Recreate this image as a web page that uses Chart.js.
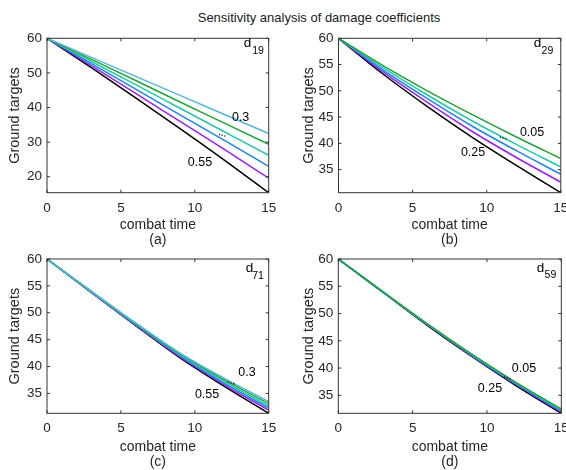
<!DOCTYPE html>
<html>
<head>
<meta charset="utf-8">
<script src="https://cdn.jsdelivr.net/npm/chart.js@4.4.0/dist/chart.umd.min.js"></script>
<style>
  html, body { margin: 0; padding: 0; background: #fff; }
  #wrap { position: relative; width: 566px; height: 470px; overflow: hidden; font-family: "Liberation Sans", Arial, sans-serif; }
  .panel { position: absolute; }
  #title { position: absolute; left: 0; width: 638px; top: 10px; line-height: 15px; text-align: center; font-size: 13px; color: #1a1a1a; }
</style>
</head>
<body>
<div id="wrap">
  <div id="title">Sensitivity analysis of damage coefficients</div>
  <canvas class="panel" id="pa" width="283" height="222" style="left:0;top:28px"></canvas>
  <canvas class="panel" id="pb" width="283" height="222" style="left:283px;top:28px"></canvas>
  <canvas class="panel" id="pc" width="283" height="220" style="left:0;top:250px"></canvas>
  <canvas class="panel" id="pd" width="283" height="220" style="left:283px;top:250px"></canvas>
</div>
<script>
(function(){
    // combat time samples and tick labels
    const times = [0, 3, 6, 9, 12, 15];
    const xTicks = [0, 5, 10, 15];
    const yTicksA = [20, 30, 40, 50, 60];
    const yTicksB = [35, 40, 45, 50, 55, 60];

    // (a) d19 = 0.3 ... 0.55
    const a030 = [60, 54.5, 49.0, 43.5, 38.0, 32.5];
    const a035 = [60, 53.9, 47.8, 41.6, 35.5, 29.4];
    const a040 = [60, 53.3, 46.6, 39.8, 33.0, 26.2];
    const a045 = [60, 52.7, 45.3, 37.9, 30.5, 23.0];
    const a050 = [60, 52.1, 44.1, 36.0, 27.9, 19.6];
    const a055 = [60, 51.5, 42.8, 33.9, 24.8, 15.4];

    // (b) d29 = 0.05 ... 0.25
    const b005 = [60, 54.8, 50.0, 45.5, 41.2, 37.1];
    const b010 = [60, 54.4, 49.2, 44.3, 39.8, 35.5];
    const b015 = [60, 54.0, 48.5, 43.3, 38.6, 34.1];
    const b020 = [60, 53.6, 47.8, 42.3, 37.3, 32.6];
    const b025 = [60, 53.2, 47.0, 41.2, 35.8, 30.6];

    // (c) d71 = 0.3 ... 0.55
    const c030 = [60, 54.0, 48.1, 42.5, 37.8, 33.5];
    const c035 = [60, 54.0, 48.0, 42.4, 37.5, 33.1];
    const c040 = [60, 53.9, 47.9, 42.2, 37.2, 32.7];
    const c045 = [60, 53.9, 47.8, 42.0, 36.9, 32.3];
    const c050 = [60, 53.8, 47.7, 41.8, 36.6, 31.9];
    const c055 = [60, 53.8, 47.6, 41.6, 36.3, 31.3];

    // (d) d59 = 0.05 ... 0.25
    const d005 = [60, 54.0, 48.1, 42.5, 37.3, 32.5];
    const d010 = [60, 54.0, 48.0, 42.4, 37.2, 32.3];
    const d015 = [60, 53.9, 48.0, 42.3, 37.0, 32.1];
    const d020 = [60, 53.9, 47.9, 42.2, 36.9, 31.9];
    const d025 = [60, 53.9, 47.8, 42.1, 36.7, 31.7];

    const sixColors = ['#55b5dd', '#21a336', '#22c9a8', '#1a84f0', '#9b1ff0', '#000000'];
    const fiveColors = ['#21a336', '#22c9a8', '#1a84f0', '#9b1ff0', '#000000'];

    const fam = '"Liberation Sans", Arial, sans-serif';
    const axisColor = '#262626';

    // box, inward ticks and the little in-plot labels
    const matlabBox = {
        id: 'matlabBox',
        afterDatasetsDraw(chart, args, opts) {
            const {ctx, chartArea: a, scales: {x, y}} = chart;
            ctx.save();
            ctx.strokeStyle = '#333';
            ctx.lineWidth = 1;
            ctx.strokeRect(a.left, a.top, a.width, a.height);
            ctx.beginPath();
            x.ticks.forEach(t => {
                const px = x.getPixelForValue(t.value);
                ctx.moveTo(px, a.bottom); ctx.lineTo(px, a.bottom - 3);
                ctx.moveTo(px, a.top); ctx.lineTo(px, a.top + 3);
            });
            y.ticks.forEach(t => {
                const py = y.getPixelForValue(t.value);
                ctx.moveTo(a.left, py); ctx.lineTo(a.left + 3, py);
                ctx.moveTo(a.right, py); ctx.lineTo(a.right - 3, py);
            });
            ctx.stroke();

            ctx.fillStyle = '#000';
            ctx.textAlign = 'center';
            ctx.textBaseline = 'middle';
            ctx.font = '12.5px ' + fam;
            opts.labels.forEach(l => {
                ctx.fillText(l.text, x.getPixelForValue(l.x), y.getPixelForValue(l.y));
            });
            // name of the coefficient with subscript
            ctx.font = '13.5px ' + fam;
            ctx.fillText('d', x.getPixelForValue(opts.name.x), y.getPixelForValue(opts.name.y));
            ctx.font = '10.5px ' + fam;
            ctx.fillText(opts.name.sub, x.getPixelForValue(opts.name.sx), y.getPixelForValue(opts.name.sy));
            // dots between the two labels
            const dx = x.getPixelForValue(opts.dots.x);
            const dy = y.getPixelForValue(opts.dots.y);
            for (let i = -1; i <= 1; i++) {
                ctx.fillRect(dx + i * 2.6 - 0.6, dy + i * 0.8 - 0.6, 1.2, 1.2);
            }
            ctx.restore();
        }
    };

    function panel(id, p) {
        new Chart(document.getElementById(id), {
            type: 'line',
            data: {
                datasets: p.series.map((s, i) => ({
                    data: times.map((t, k) => ({x: t, y: s[k]})),
                    borderColor: p.colors[i],
                    borderWidth: 1.5,
                    pointRadius: 0,
                    cubicInterpolationMode: 'monotone'
                }))
            },
            options: {
                responsive: false,
                animation: false,
                events: [],
                layout: {padding: {left: 0, top: p.padTop, right: p.padRight, bottom: 0}},
                plugins: {
                    legend: {display: false},
                    tooltip: {enabled: false},
                    matlabBox: {labels: p.labels, name: p.name, dots: p.dots}
                },
                scales: {
                    x: {
                        type: 'linear',
                        min: 0,
                        max: 15,
                        grid: {display: false, drawTicks: false},
                        border: {display: false},
                        ticks: {font: {size: 13.5, family: fam}, color: axisColor, padding: 7, maxRotation: 0, autoSkip: false},
                        afterBuildTicks: s => { s.ticks = xTicks.map(v => ({value: v})); },
                        title: {
                            display: true,
                            text: ['combat time', p.tag],
                            font: {size: 14, family: fam, lineHeight: '15px'},
                            color: axisColor,
                            padding: {top: 0, bottom: p.titlePad}
                        },
                        afterFit: s => { s.height = p.xHeight; s.paddingLeft = 0; s.paddingRight = 0; }
                    },
                    y: {
                        type: 'linear',
                        bounds: 'data',
                        min: Math.min(...p.series.flat()),
                        max: 60,
                        grid: {display: false, drawTicks: false},
                        border: {display: false},
                        ticks: {font: {size: 13.5, family: fam}, color: axisColor, padding: 5},
                        afterBuildTicks: s => { s.ticks = p.yTicks.map(v => ({value: v})); },
                        title: {
                            display: true,
                            text: 'Ground targets',
                            font: {size: 14.5, family: fam, lineHeight: '14px'},
                            color: axisColor,
                            padding: {top: p.yTitlePad, bottom: 0}
                        },
                        afterFit: s => { s.width = p.yWidth; s.paddingTop = 0; s.paddingBottom = 0; }
                    }
                }
            },
            plugins: [matlabBox]
        });
    }

    panel('pa', {
        series: [a030, a035, a040, a045, a050, a055], colors: sixColors, yTicks: yTicksA, tag: '(a)',
        padTop: 10.3, padRight: 14.3, xHeight: 57.3, titlePad: 2, yWidth: 47, yTitlePad: 8.3,
        labels: [{text: '0.3', x: 13.1, y: 37.0}, {text: '0.55', x: 10.35, y: 24.0}],
        dots: {x: 11.85, y: 32.0},
        name: {x: 13.57, y: 58.64, sub: '19', sx: 14.28, sy: 56.2}
    });
    panel('pb', {
        series: [b005, b010, b015, b020, b025], colors: fiveColors, yTicks: yTicksB, tag: '(b)',
        padTop: 10.3, padRight: 5.2, xHeight: 57.3, titlePad: 2, yWidth: 55.5, yTitlePad: 18.5,
        labels: [{text: '0.05', x: 13.06, y: 42.1}, {text: '0.25', x: 9.08, y: 38.3}],
        dots: {x: 11.1, y: 41.0},
        name: {x: 13.43, y: 59.1, sub: '29', sx: 14.1, sy: 57.5}
    });
    panel('pc', {
        series: [c030, c035, c040, c045, c050, c055], colors: sixColors, yTicks: yTicksB, tag: '(c)',
        padTop: 9, padRight: 14.3, xHeight: 56.7, titlePad: 0, yWidth: 47, yTitlePad: 8.3,
        labels: [{text: '0.3', x: 13.53, y: 38.8}, {text: '0.55', x: 10.83, y: 34.7}],
        dots: {x: 12.45, y: 36.95},
        name: {x: 13.7, y: 58.3, sub: '71', sx: 14.28, sy: 56.9}
    });
    panel('pd', {
        series: [d005, d010, d015, d020, d025], colors: fiveColors, yTicks: yTicksB, tag: '(d)',
        padTop: 9, padRight: 4.7, xHeight: 56.7, titlePad: 0, yWidth: 55.3, yTitlePad: 18.5,
        labels: [{text: '0.05', x: 12.49, y: 39.9}, {text: '0.25', x: 10.2, y: 36.2}],
        dots: {x: 11.35, y: 38.2},
        name: {x: 13.6, y: 58.3, sub: '59', sx: 14.27, sy: 57.05}
    });
})();
</script>
</body>
</html>
